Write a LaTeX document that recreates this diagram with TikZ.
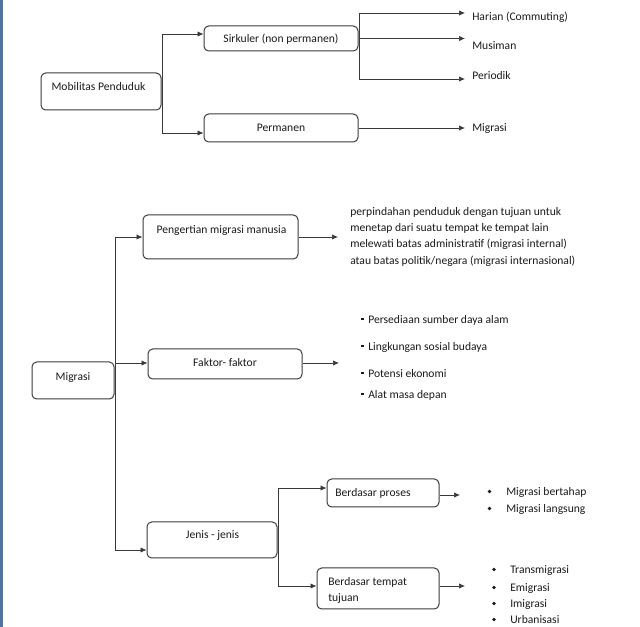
\documentclass[tikz,border=0pt]{standalone}
\usepackage{fontspec}
\setmainfont{Carlito}
\usetikzlibrary{arrows.meta}
\definecolor{boxc}{HTML}{3A3A3A}
\definecolor{linec}{HTML}{3A3A3A}
\definecolor{txtc}{HTML}{1A1A1A}
\definecolor{edgec}{HTML}{4F74A8}
\begin{document}
\begin{tikzpicture}[x=0.75pt,y=-0.75pt,
  font=\fontsize{8.7pt}{10.5pt}\selectfont,
  box/.style={draw=boxc, line width=0.75pt, rounded corners=3.5pt, inner sep=0pt},
  txt/.style={inner sep=0pt, text=txtc, text height=6pt, text depth=1.8pt, yshift=-1.5pt},
  conn/.style={draw=linec, line width=0.55pt},
  arr/.style={conn, -{Latex[length=4.5pt,width=4pt]}},
  dot/.style={fill=txtc}]
\useasboundingbox (0,0) rectangle (640,627);
\fill[edgec] (0,0) rectangle (2.5,627);

% ---------- top part ----------
\node[box, minimum width=90pt, minimum height=27.75pt] (mob) at (101,91.5) {};
\node[txt] (mobT) at (98.5,86) {Mobilitas Penduduk};
\node[box, minimum width=115.5pt, minimum height=18.75pt] (sirk) at (281,38.5) {};
\node[txt] (sirkT) at (281,38) {Sirkuler (non permanen)};
\node[box, minimum width=115.5pt, minimum height=21pt] (perm) at (281,128) {};
\node[txt] (permT) at (281,127) {Permanen};

\node[txt, anchor=west] (har) at (472,16) {Harian (Commuting)};
\node[txt, anchor=west] (mus) at (472,45) {Musiman};
\node[txt, anchor=west] (per) at (472,75) {Periodik};
\node[txt, anchor=west] (mig1) at (472,127) {Migrasi};

\coordinate (jm1) at (162,34);
\coordinate (jm2) at (162,133);
\draw[conn] (jm1) -- (jm2);
\draw[arr] (jm1) -- (sirk.west |- jm1);
\draw[arr] (jm2) -- (perm.west |- jm2);

\coordinate (js1) at (359,13);
\coordinate (js3) at (359,79);
\coordinate (eh) at (465,13);
\coordinate (em) at (465,38.5);
\coordinate (ep) at (465,79);
\coordinate (eg) at (465,128);
\draw[conn] (js1) -- (js3);
\draw[arr] (js1) -- (eh);
\draw[arr] (sirk.east) -- (em);
\draw[arr] (js3) -- (ep);
\draw[arr] (perm.east) -- (eg);

% ---------- bottom part ----------
\node[box, minimum width=61.5pt, minimum height=27.75pt] (migr) at (73,380.5) {};
\node[txt] (migrT) at (73,376) {Migrasi};
\node[box, minimum width=116.25pt, minimum height=33pt] (peng) at (220.5,237) {};
\node[txt] (pengT) at (221.5,229) {Pengertian migrasi manusia};
\node[box, minimum width=115.5pt, minimum height=22.5pt] (fakt) at (225,364) {};
\node[txt] (faktT) at (225,362) {Faktor- faktor};
\node[box, minimum width=97.5pt, minimum height=27pt] (jenis) at (212,540) {};
\node[txt] (jenisT) at (212.5,534) {Jenis - jenis};
\node[box, minimum width=84pt, minimum height=21pt] (pros) at (383,493) {};
\node[txt, anchor=west] (prosT) at (335,492) {Berdasar proses};
\node[box, minimum width=91.5pt, minimum height=30.75pt] (temp) at (378,588.5) {};
\node[txt, anchor=west] (tempT1) at (328,581) {Berdasar tempat};
\node[txt, anchor=west] (tempT2) at (328,597) {tujuan};

% definition text
\node[txt, anchor=west] (d1) at (350,211) {perpindahan penduduk dengan tujuan untuk};
\node[txt, anchor=west] (d2) at (350,227) {menetap dari suatu tempat ke tempat lain};
\node[txt, anchor=west] (d3) at (350,243) {melewati batas administratif (migrasi internal)};
\node[txt, anchor=west] (d4) at (350,260) {atau batas politik/negara (migrasi internasional)};

% factors
\foreach \yy/\tt/\nm in {319/Persediaan sumber daya alam/f1, 346/Lingkungan sosial budaya/f2, 373/Potensi ekonomi/f3, 394/Alat masa depan/f4}{
  \fill[dot] (361.4,\yy-1.4) rectangle (364,\yy+1.2);
  \node[txt, anchor=west] (\nm) at (368,\yy) {\tt};
}

% jenis proses
\foreach \yy/\tt/\nm in {491/Migrasi bertahap/p1, 508/Migrasi langsung/p2}{
  \fill[dot] (489.5,\yy+0.5) circle (1.8);
  \node[txt, anchor=west] (\nm) at (506,\yy) {\tt};
}
% jenis tempat
\foreach \yy/\tt/\nm in {569/Transmigrasi/t1, 587/Emigrasi/t2, 603/Imigrasi/t3, 619/Urbanisasi/t4}{
  \fill[dot] (494,\yy+0.5) circle (1.8);
  \node[txt, anchor=west] (\nm) at (510,\yy) {\tt};
}

% connectors bottom
\coordinate (jb1) at (115,237);
\coordinate (jb2) at (115,363);
\coordinate (jb3) at (115,550);
\draw[conn] (jb1) -- (jb3);
\draw[arr] (jb1) -- (peng.west |- jb1);
\draw[arr] (jb2) -- (fakt.west |- jb2);
\draw[arr] (jb3) -- (jenis.west |- jb3);

\coordinate (epg) at (338,237);
\coordinate (efk) at (339,363);
\draw[arr] (peng.east |- epg) -- (epg);
\draw[arr] (fakt.east |- efk) -- (efk);

\coordinate (jj1) at (278,488);
\coordinate (jj2) at (278,586);
\draw[conn] (jj1) -- (jj2);
\draw[arr] (jj1) -- (pros.west |- jj1);
\draw[arr] (jj2) -- (temp.west |- jj2);

\coordinate (epr) at (460,495);
\coordinate (etp) at (465,586);
\draw[arr] (pros.east |- epr) -- (epr);
\draw[arr] (temp.east |- etp) -- (etp);
\end{tikzpicture}
\end{document}
